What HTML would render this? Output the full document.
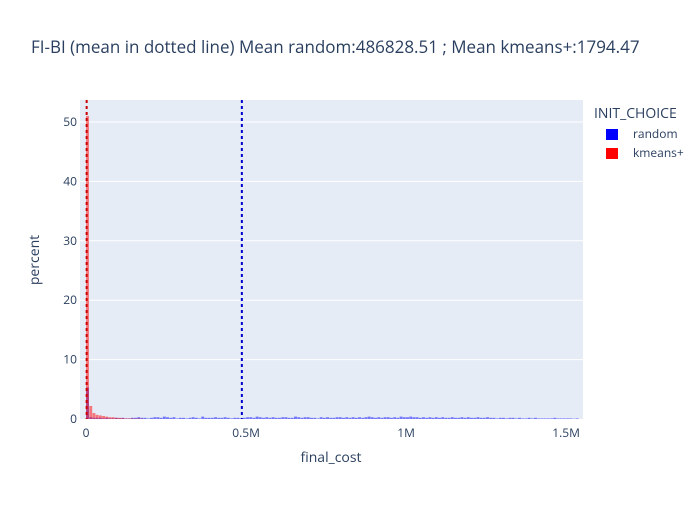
<!DOCTYPE html>
<html><head><meta charset="utf-8"><style>
body{margin:0;background:#fff;}
svg text{font-family:"Open Sans","Liberation Sans",sans-serif;}
</style></head><body>
<svg id="chart" width="700" height="500" xmlns="http://www.w3.org/2000/svg">
<rect x="0" y="0" width="700" height="500" fill="#fff"/>
<rect x="80" y="100" width="503" height="319" fill="#e5ecf6"/>
<g id="grid"></g>
<g id="bars"></g>
<g id="means"></g>
<g id="axes"></g>
<text x="31" y="53" font-size="17" fill="#2a3f5f">FI-BI (mean in dotted line) Mean random:486828.51 ; Mean kmeans+:1794.47</text>
<text x="331" y="462" font-size="14" fill="#2a3f5f" text-anchor="middle">final_cost</text>
<text transform="translate(39,260) rotate(-90)" font-size="14" fill="#2a3f5f" text-anchor="middle">percent</text>
<g>
<text x="594" y="118" font-size="14" fill="#2a3f5f">INIT_CHOICE</text>
<g><rect x="606" y="129" width="12" height="11" fill="#0000ff"/><text x="633" y="138" font-size="12" fill="#2a3f5f">random</text></g>
<g><rect x="606" y="148" width="12" height="11" fill="#ff0000"/><text x="633" y="157" font-size="12" fill="#2a3f5f">kmeans+</text></g>
</g>
</svg>
<script>
const binWidth = 10000;
const yTicks = [0,10,20,30,40,50];
const xTicks = [0,500000,1000000,1500000];
const xTickLabels = ["0","0.5M","1M","1.5M"];
const redValues = [51,2.2,1.0,0.7,0.6,0.5,0.4,0.3,0.3,0.2,0.2,0.15,0.1,0.1,0.1,0.05,0.1,0.05];
const blueValues = [5.3,0.3,0.2,0.2,0.2,0.1,0.2,0.1,0.1,0.2,0.1,0.2,0.1,0.1,0.2,0.2,0.3,0.2,0.2,0.1,
0.2,0.3,0.3,0.2,0.4,0.3,0.2,0.3,0.1,0.2,0.2,0.1,0.2,0.3,0.2,0.1,0.4,0.2,0.2,0.2,
0.3,0.2,0.2,0.3,0.2,0.1,0.2,0.2,0.1,0.2,0.3,0.3,0.2,0.4,0.3,0.2,0.3,0.2,0.3,0.2,
0.2,0.3,0.3,0.2,0.2,0.4,0.3,0.2,0.3,0.3,0.2,0.2,0.1,0.3,0.2,0.3,0.2,0.2,0.3,0.3,
0.2,0.3,0.2,0.3,0.2,0.3,0.2,0.3,0.4,0.3,0.2,0.3,0.2,0.3,0.3,0.2,0.3,0.2,0.4,0.3,
0.3,0.4,0.3,0.3,0.2,0.3,0.2,0.3,0.2,0.3,0.2,0.3,0.2,0.2,0.3,0.2,0.2,0.3,0.2,0.3,
0.2,0.2,0.3,0.2,0.2,0.3,0.2,0.2,0.1,0.2,0.2,0.1,0.2,0.2,0.1,0.2,0.1,0.1,0.2,0.1,
0.2,0.1,0.1,0.1,0.1,0.1,0.2,0.1,0.1,0.1,0.1,0.1,0.05,0.1];
const meanRandom = 486828.51;
const meanKmeans = 1794.47;

const NS="http://www.w3.org/2000/svg";
const x0=80,x1=583,y0=419,y1=100;
const xMin=-19000,xMax=1553000,yMax=53.7;
const xs=v=>x0+(v-xMin)/(xMax-xMin)*(x1-x0);
const ys=v=>y0-v/yMax*(y0-y1);
function mk(tag,attrs,parent){const e=document.createElementNS(NS,tag);for(const k in attrs)e.setAttribute(k,attrs[k]);parent.appendChild(e);return e;}
const grid=document.getElementById('grid'),bars=document.getElementById('bars'),means=document.getElementById('means'),axes=document.getElementById('axes');
yTicks.forEach(t=>{
  if(t>0){const l=mk('line',{x1:x0,x2:x1,y1:ys(t),y2:ys(t),stroke:'#fff','stroke-width':1},grid);
  
  }
  const tx=mk('text',{x:x0-3,y:ys(t)+4,'font-size':12,fill:'#2a3f5f','text-anchor':'end'},axes);
  tx.textContent=t;
  
  
});
xTicks.forEach((t,i)=>{
  const tx=mk('text',{x:xs(t),y:437,'font-size':12,fill:'#2a3f5f','text-anchor':'middle'},axes);
  tx.textContent=xTickLabels[i];
  
  
});
function drawSeries(vals,color,name){
  vals.forEach((v,i)=>{
    const a=xs(i*binWidth),b=xs((i+1)*binWidth);
    const r=mk('rect',{x:a,y:ys(v),width:Math.max(b-a-0.3,0.5),height:ys(0)-ys(v),fill:color,'fill-opacity':0.5},bars);
    
    
  });
}
drawSeries(blueValues,'#0000ff','bar-random');
drawSeries(redValues,'#ff0000','bar-kmeans');
const m1=mk('line',{x1:xs(meanRandom),x2:xs(meanRandom),y1:y1,y2:y0,stroke:'#0000cc','stroke-width':2,'stroke-dasharray':'3,3'},means);


const m2=mk('line',{x1:xs(meanKmeans),x2:xs(meanKmeans),y1:y1,y2:y0,stroke:'#cc0000','stroke-width':2,'stroke-dasharray':'3,3'},means);


</script>
</body></html>
